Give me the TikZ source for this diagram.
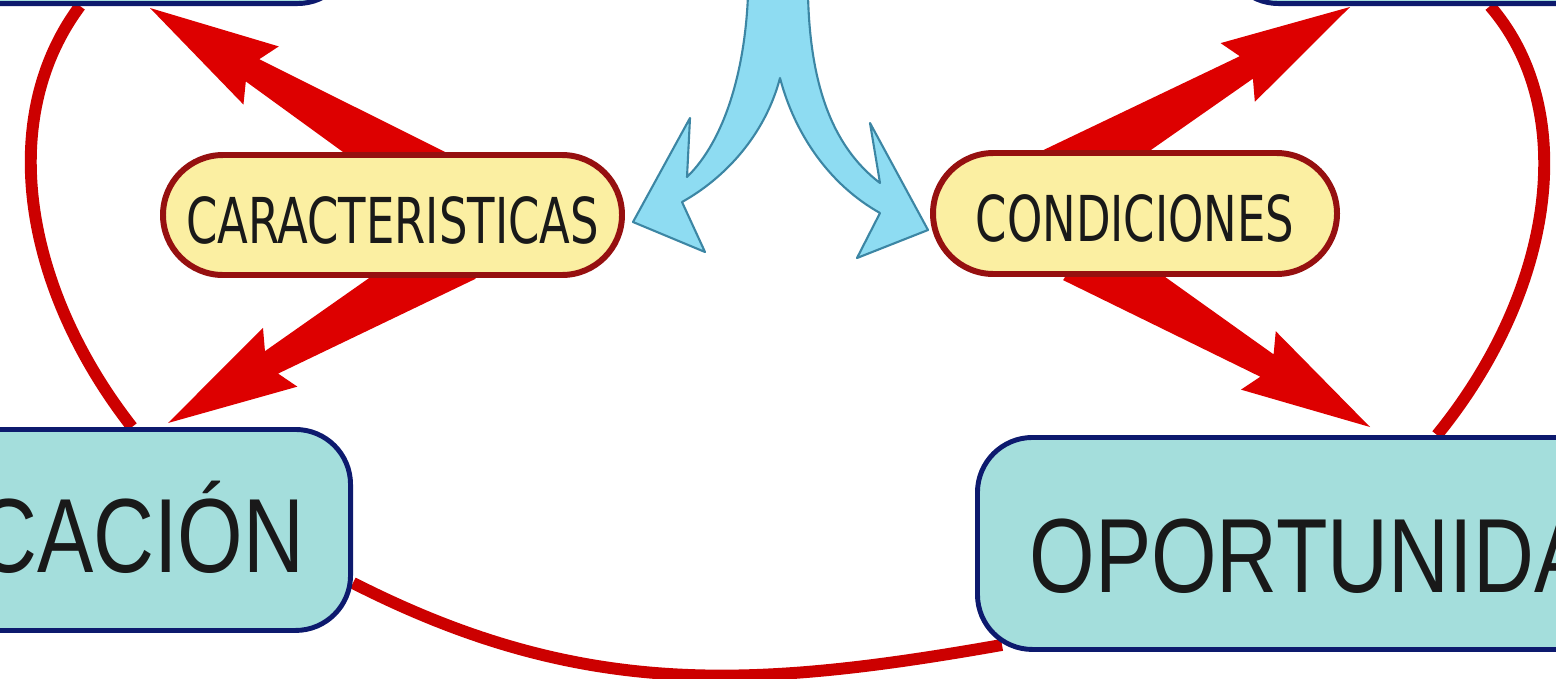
\documentclass[tikz,border=0pt]{standalone}
\usepackage{fontspec}
\usepackage{xcolor}
\usepackage{tikz}
\usetikzlibrary{calc}
\usetikzlibrary{shapes.misc}
\usetikzlibrary{backgrounds}
\newfontfamily\cajafont[FakeStretch=0.8]{Liberation Sans}
\newfontfamily\pildorafont[FakeStretch=0.71]{DejaVu Sans}
\definecolor{cajafondo}{HTML}{A4DEDC}
\definecolor{cajaborde}{HTML}{0D1A6E}
\definecolor{pildorafondo}{HTML}{FBEFA2}
\definecolor{pildoraborde}{HTML}{961010}
\definecolor{rojo}{HTML}{DD0000}
\definecolor{arcorojo}{HTML}{CC0000}
\definecolor{azulfondo}{HTML}{8EDCF2}
\definecolor{azulborde}{HTML}{3C86A4}
\tikzset{
    caja/.style = {draw=cajaborde, fill=cajafondo, line width=1.4pt, rounded corners=0.55cm,
        inner sep=0pt, text=black!90, font=\cajafont\fontsize{30}{36}\selectfont},
    pildora/.style = {rounded rectangle, draw=pildoraborde, fill=pildorafondo, line width=1.7pt,
        inner sep=0pt, text=black!90, text height=0.56cm, text depth=0cm,
        font=\pildorafont\fontsize{18}{20}\selectfont},
    arco/.style = {draw=arcorojo, line width=3.4pt},
    azul/.style = {draw=azulborde, fill=azulfondo, line width=0.6pt, line join=round}
}
\newcommand{\flecharoja}[2]{%
    \coordinate (fr-n) at ($(#2)!1.2cm!(#1)$);
    \coordinate (fr-b) at ($(#2)!1.3cm!(#1)$);
    \fill[rojo] ($(#1)!0.31cm!90:(#2)$) -- ($(fr-n)!0.13cm!90:(#2)$) -- ($(fr-b)!0.34cm!90:(#2)$)
        -- (#2) -- ($(fr-b)!0.34cm!-90:(#2)$) -- ($(fr-n)!0.13cm!-90:(#2)$) -- ($(#1)!0.31cm!-90:(#2)$) -- cycle;
}

\begin{document}
\begin{tikzpicture}
                \useasboundingbox (0,0) rectangle (15.56,-6.78);
                \node (tl) [caja, anchor=south east, minimum width=4.6cm, minimum height=1.5cm] at (3.55,-0.06) {};
                \node (tr) [caja, anchor=south west, minimum width=4.6cm, minimum height=1.5cm] at (12.21,-0.06) {};
                \node (edu) [caja, anchor=north east, minimum height=2.01cm, inner xsep=0.46cm, text width=4.08cm,
                    align=right, text height=0.855cm, text depth=0cm] at (3.53,-4.27) {CACIÓN};
                \node (opo) [caja, anchor=north west, minimum height=2.12cm, inner xsep=0.52cm, text width=5.96cm,
                    align=left, text height=0.98cm, text depth=0cm] at (9.75,-4.35) {OPORTUNIDA};
                \node (car) [pildora, minimum width=4.59cm, minimum height=1.2cm] at (3.925,-2.15) {CARACTERISTICAS};
                \node (cond) [pildora, minimum width=4.04cm, minimum height=1.21cm] at (11.35,-2.135) {CONDICIONES};
                \coordinate (baseA) at ($(car.north)+(0.465,-0.315)$);
                \coordinate (puntaA) at ($(tl.south east)+(-2.05,-0.02)$);
                \coordinate (baseB) at ($(car.south)+(0.675,0.26)$);
                \coordinate (puntaB) at ($(edu.north east)+(-1.85,0.04)$);
                \coordinate (baseC) at ($(cond.north)+(-0.774,-0.275)$);
                \coordinate (puntaC) at ($(tr.south west)+(1.29,-0.01)$);
                \coordinate (baseD) at ($(cond.south)+(-0.56,0.235)$);
                \coordinate (puntaD) at ($(opo.north west)+(3.95,0.08)$);
                \coordinate (bifurca) at (7.80,-0.78);
                \draw[azul] (7.48,0.05) .. controls (7.45,-0.70) and (7.25,-1.40) .. (6.87,-1.77)
                    -- (6.90,-1.18) -- (6.33,-2.22) -- (7.05,-2.52) -- (6.82,-2.02)
                    .. controls (7.25,-1.78) and (7.65,-1.35) .. (bifurca)
                    .. controls (7.95,-1.35) and (8.30,-1.85) .. (8.80,-2.13)
                    -- (8.57,-2.58) -- (9.28,-2.30) -- (8.70,-1.23) -- (8.80,-1.83)
                    .. controls (8.30,-1.45) and (8.10,-0.80) .. (8.08,0.05) -- cycle;
                \begin{pgfonlayer}{background}
                    \fill[white] (0,0) rectangle (15.56,-6.78);
                    \draw[arco] ($(tl.south east)+(-2.75,0)$) .. controls (-0.05,-1.2) and (0.25,-2.9) .. ($(edu.north east)+(-2.21,0)$);
                    \draw[arco] ($(tr.south west)+(2.69,0)$) .. controls (15.80,-1.1) and (15.55,-2.9) .. ($(opo.north west)+(4.62,0)$);
                    \draw[arco] ($(edu.south east)+(0,0.5)$) to[out=-27, in=190] ($(opo.south west)+(0.27,0.07)$);
                    \flecharoja{baseA}{puntaA}
                    \flecharoja{baseB}{puntaB}
                    \flecharoja{baseC}{puntaC}
                    \flecharoja{baseD}{puntaD}
                \end{pgfonlayer}
            \end{tikzpicture}
\end{document}
